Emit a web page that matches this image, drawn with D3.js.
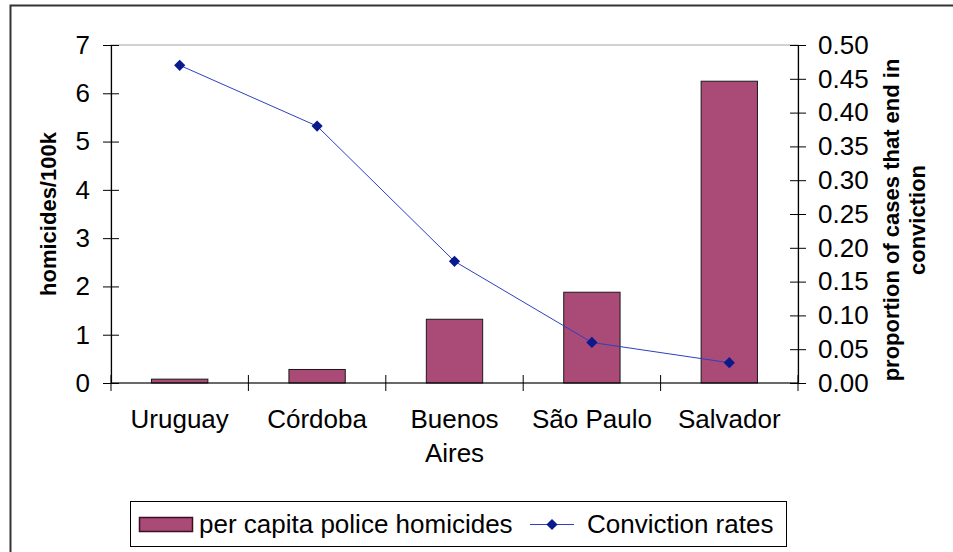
<!DOCTYPE html>
<html>
<head>
<meta charset="utf-8">
<script src="https://cdn.jsdelivr.net/npm/d3@7"></script>
<style>
  html, body { margin: 0; padding: 0; background: #fff; }
  svg { display: block; font-family: "Liberation Sans", Arial, sans-serif; }
</style>
</head>
<body>
<svg id="chart" width="953" height="552"></svg>
<script>
// Cities compared
const categories = ["Uruguay", "Córdoba", "Buenos Aires", "São Paulo", "Salvador"];
// Per capita police homicides (per 100k)
const homicides = [0.08, 0.28, 1.32, 1.88, 6.25];
// Proportion of cases that end in conviction
const conviction = [0.47, 0.38, 0.18, 0.06, 0.03];
// Axis tick values
const leftTicks = [0, 1, 2, 3, 4, 5, 6, 7];
const rightTicks = [0, 0.05, 0.10, 0.15, 0.20, 0.25, 0.30, 0.35, 0.40, 0.45, 0.50];
// Legend labels
const legendLabels = ["per capita police homicides", "Conviction rates"];

const barFill = "#AA4A77";
const lineColor = "#2E3FC2";
const markerColor = "#0A1A8C";

const svg = d3.select("#chart");
const plot = { left: 111, right: 798, top: 45, bottom: 383 };

// Outer chart frame
svg.append("rect")
  .attr("x", 10.5).attr("y", 5.5)
  .attr("width", 1000).attr("height", 1000)
  .attr("fill", "#fff").attr("stroke", "#333").attr("stroke-width", 2);

const x = d3.scaleBand().domain(categories).range([plot.left, plot.right]).padding(0);
const yL = d3.scaleLinear().domain([0, 7]).range([plot.bottom, plot.top]);
const yR = d3.scaleLinear().domain([0, 0.5]).range([plot.bottom, plot.top]);

// Plot area border
svg.append("rect")
  .attr("x", plot.left).attr("y", plot.top)
  .attr("width", plot.right - plot.left).attr("height", plot.bottom - plot.top)
  .attr("fill", "none").attr("stroke", "#c4c4c4").attr("stroke-width", 1.5);

// Bars
const barW = x.bandwidth() * 0.41;
svg.append("g").selectAll("rect")
  .data(categories)
  .join("rect")
  .attr("x", (d) => x(d) + (x.bandwidth() - barW) / 2)
  .attr("width", barW)
  .attr("y", (d, i) => yL(homicides[i]))
  .attr("height", (d, i) => yL(0) - yL(homicides[i]))
  .attr("fill", barFill)
  .attr("stroke", "#1a1a1a")
  .attr("stroke-width", 1);

const tickFont = 26;

// Left axis
const gL = svg.append("g")
  .attr("transform", `translate(${plot.left},0)`)
  .call(d3.axisLeft(yL).tickValues(leftTicks).tickFormat(d3.format("d")).tickSizeInner(8).tickSizeOuter(0).tickPadding(13));
gL.selectAll(".tick line").attr("x1", 8).attr("stroke", "#000");
gL.select(".domain").attr("stroke", "#000").attr("stroke-width", 1.2);
gL.selectAll(".tick text").attr("font-size", tickFont).attr("fill", "#000").attr("font-family", "Liberation Sans, Arial, sans-serif");

// Right axis
const gR = svg.append("g")
  .attr("transform", `translate(${plot.right},0)`)
  .call(d3.axisRight(yR).tickValues(rightTicks).tickFormat(d3.format(".2f")).tickSizeInner(8).tickSizeOuter(0).tickPadding(12));
gR.selectAll(".tick line").attr("x1", -8).attr("stroke", "#000");
gR.select(".domain").attr("stroke", "#000").attr("stroke-width", 1.2);
gR.selectAll(".tick text").attr("font-size", tickFont).attr("fill", "#000").attr("font-family", "Liberation Sans, Arial, sans-serif");

// Category axis with boundary ticks
const gX = svg.append("g");
gX.append("line")
  .attr("x1", plot.left).attr("x2", plot.right)
  .attr("y1", yL(0)).attr("y2", yL(0))
  .attr("stroke", "#000").attr("stroke-width", 1.2);
const bounds = categories.map((c) => x(c)).concat([x(categories[categories.length - 1]) + x.bandwidth()]);
gX.selectAll("line.bt")
  .data(bounds)
  .join("line")
  .attr("class", "bt")
  .attr("x1", (d) => d).attr("x2", (d) => d)
  .attr("y1", yL(0) - 8).attr("y2", yL(0) + 8)
  .attr("stroke", "#000");

// Category labels (wrapped onto two lines where needed)
const xl = gX.selectAll("text.cat")
  .data(categories)
  .join("text")
  .attr("class", "cat")
  .attr("x", (d) => x(d) + x.bandwidth() / 2)
  .attr("y", 428)
  .attr("text-anchor", "middle")
  .attr("font-size", tickFont)
  .attr("fill", "#000");
xl.each(function (d) {
  const words = d === "Buenos Aires" ? ["Buenos", "Aires"] : [d];
  const t = d3.select(this);
  words.forEach((w, i) => {
    t.append("tspan")
      .attr("x", x(d) + x.bandwidth() / 2)
      .attr("dy", i === 0 ? 0 : 34)
      .text(w);
  });
});

// Conviction line and markers
const line = d3.line()
  .x((d, i) => x(categories[i]) + x.bandwidth() / 2)
  .y((d) => yR(d));
svg.append("path")
  .datum(conviction)
  .attr("d", line)
  .attr("fill", "none")
  .attr("stroke", lineColor)
  .attr("stroke-width", 1);

const diamond = d3.symbol().type(d3.symbolDiamond2).size(80);
svg.append("g").selectAll("path")
  .data(conviction)
  .join("path")
  .attr("transform", (d, i) => `translate(${x(categories[i]) + x.bandwidth() / 2},${yR(d)})`)
  .attr("d", diamond)
  .attr("fill", markerColor);

// Axis titles
const midY = (plot.top + plot.bottom) / 2;
svg.append("text")
  .attr("transform", `translate(56,${midY}) rotate(-90)`)
  .attr("text-anchor", "middle")
  .attr("font-size", 22)
  .attr("font-weight", "bold")
  .text("homicides/100k");

const rt = svg.append("text")
  .attr("transform", `translate(899,${midY + 6}) rotate(-90)`)
  .attr("text-anchor", "middle")
  .attr("font-size", 22)
  .attr("font-weight", "bold");
rt.append("tspan").attr("x", 0).attr("dy", 0).text("proportion of cases that end in");
rt.append("tspan").attr("x", 0).attr("dy", 26).text("conviction");

// Legend
const lg = svg.append("g");
lg.append("rect")
  .attr("x", 130.5).attr("y", 501.5)
  .attr("width", 656).attr("height", 45)
  .attr("fill", "#fff").attr("stroke", "#000").attr("stroke-width", 1);
lg.append("rect")
  .attr("x", 139.5).attr("y", 517.5)
  .attr("width", 53).attr("height", 14)
  .attr("fill", barFill).attr("stroke", "#3a0f25").attr("stroke-width", 1.5);
lg.append("text")
  .attr("x", 199).attr("y", 533)
  .attr("font-size", tickFont)
  .text(legendLabels[0]);
lg.append("line")
  .attr("x1", 530).attr("x2", 574)
  .attr("y1", 524.5).attr("y2", 524.5)
  .attr("stroke", lineColor).attr("stroke-width", 1.2);
lg.append("path")
  .attr("transform", "translate(552,524.5)")
  .attr("d", diamond)
  .attr("fill", markerColor);
lg.append("text")
  .attr("x", 587).attr("y", 533)
  .attr("font-size", tickFont)
  .text(legendLabels[1]);
</script>
</body>
</html>
